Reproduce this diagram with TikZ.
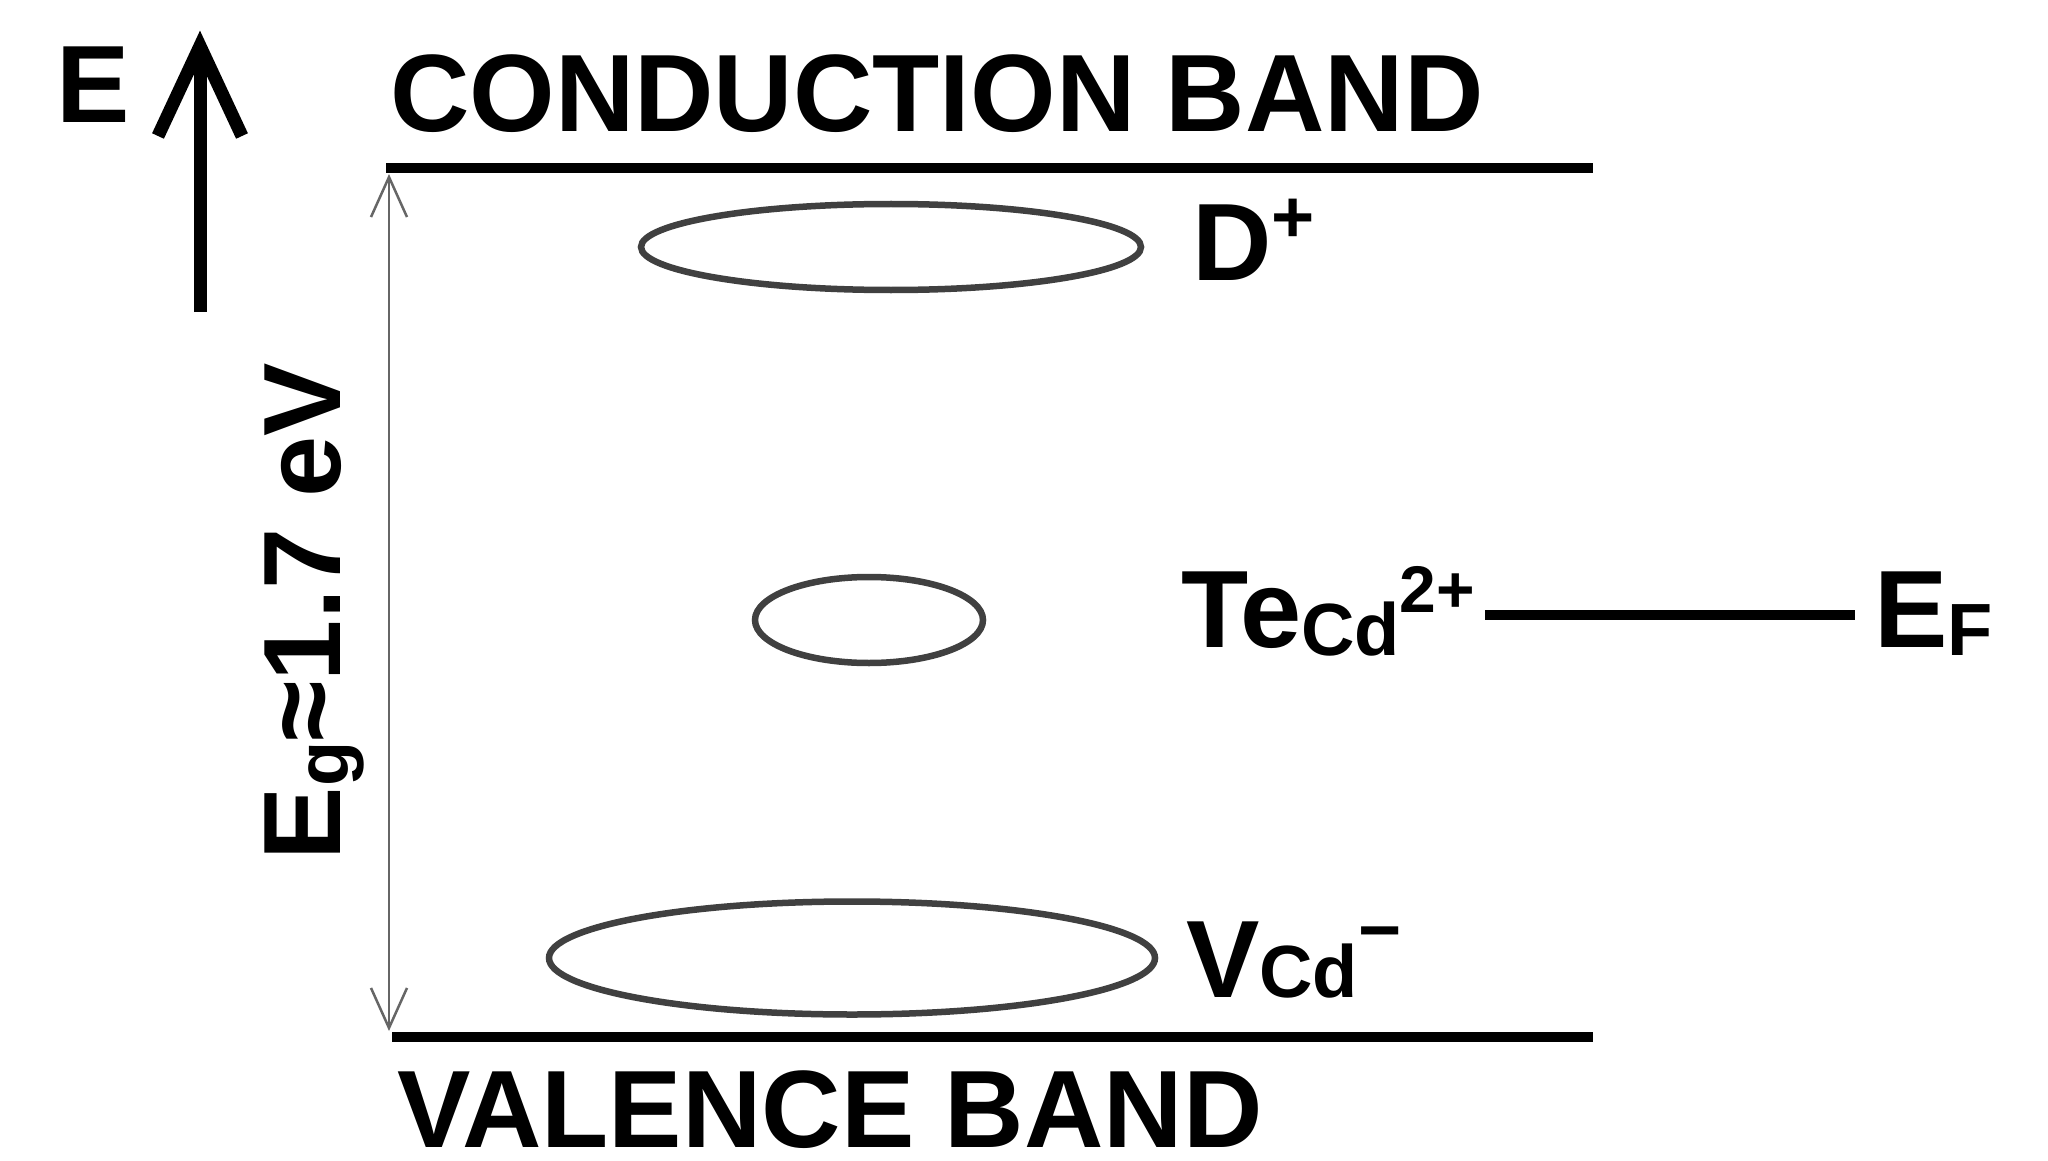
\documentclass[tikz,border=0pt]{standalone}
\usepackage{fontspec}
\setmainfont{Liberation Sans}
\usetikzlibrary{arrows.meta,shapes.geometric,calc}
\newcommand{\szA}{\fontsize{110}{110}\selectfont}
\newcommand{\szB}{\fontsize{74}{74}\selectfont}
\newcommand{\szC}{\fontsize{66}{66}\selectfont}
\newcommand{\lowsub}[1]{\raisebox{-8pt}{\szB #1}}
\tikzset{
  lbl/.style={anchor=base west, inner sep=0pt, outer sep=0pt, font=\szA\bfseries, text=black},
  band/.style={line width=10pt, black},
  lvl/.style={line width=10pt, black},
  axis/.style={line width=13pt, black, line join=miter},
  gap/.style={draw=gray!80!black, line width=2.5pt,
    {Straight Barb[length=40pt,width=36pt,line width=2.5pt]}-{Straight Barb[length=40pt,width=36pt,line width=2.5pt]}},
  defect/.style={ellipse, draw=black!75, line width=6.5pt, inner sep=0pt, outer sep=0pt}
}
\begin{document}
\begin{tikzpicture}[x=1pt,y=-1pt]
\useasboundingbox[fill=white] (0,0) rectangle (2048,1161);

% energy axis
\coordinate (axb) at (200,312);
\coordinate (axt) at (200,46);
\draw[axis] (axb) -- (axt);
\draw[axis] ($(axt)+(-42,90)$) -- (axt) -- ($(axt)+(42,90)$);
\node[lbl] (E) at (56,123) {E};

% bands
\coordinate (cbL) at (386,168);
\coordinate (cbR) at (1593,168);
\coordinate (vbL) at (392,1037);
\coordinate (vbR) at (1593,1037);
\draw[band] (cbL) -- (cbR);
\draw[band] (vbL) -- (vbR);
\node[lbl] (cb) at (390,132) {CONDUCTION BAND};
\node[lbl] (vb) at (397,1147) {VALENCE BAND};

% band gap arrow
\coordinate (gt) at (389,174);
\coordinate (gb) at (389,1031);
\draw[gap] (gt) -- (gb);
\node[lbl, rotate=90] (eg) at (340,860) {E\lowsub{g}≈1.7 eV};

% defect levels
\node[defect, minimum width=500pt, minimum height=86pt] (dell) at (891,247) {};
\node[defect, minimum width=228pt, minimum height=86pt] (tell) at (869,620) {};
\node[defect, minimum width=606pt, minimum height=113pt] (vell) at (852,958) {};

\node[lbl] (dp) at (1192,280) {D\raisebox{38pt}{\szB +}};
\node[lbl] (te) at (1181,647) {Te\lowsub{Cd}\raisebox{35pt}{\szC 2+}};
\node[lbl] (vcd) at (1186,997) {V{\szB Cd}\raisebox{42pt}{\szB −}};
\node[lbl] (ef) at (1874,647) {E\lowsub{F}};

% Fermi level
\coordinate (lv) at (0,615);
\draw[lvl, shorten <=10pt, shorten >=19pt] (te.east |- lv) -- (ef.west |- lv);
\end{tikzpicture}
\end{document}
